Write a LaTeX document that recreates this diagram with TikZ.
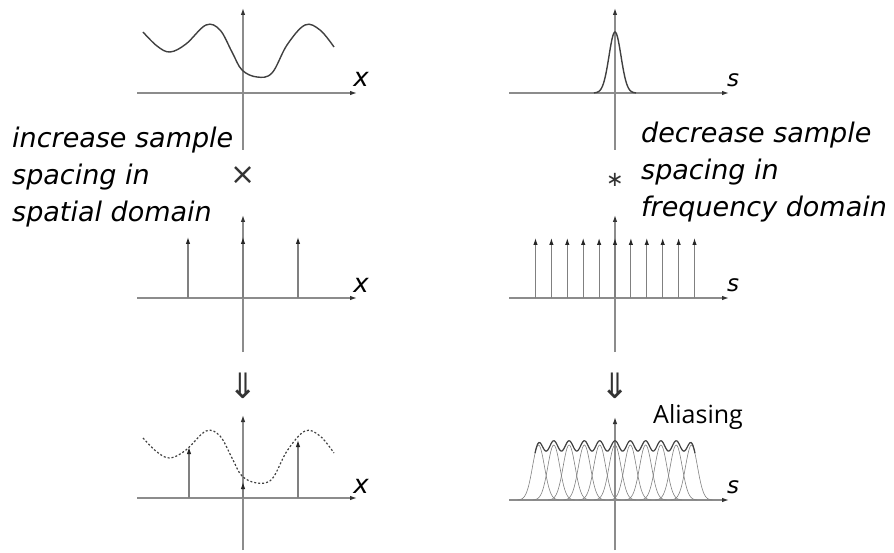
\documentclass[tikz,border=0pt]{standalone}
\usepackage{fontspec}
\newfontfamily\notefont{DejaVu Sans}
\newfontfamily\tagfont{Open Sans}
\usetikzlibrary{arrows.meta}

\begin{document}
\begin{tikzpicture}[x=1pt, y=-1pt,
  axis/.style={draw=black!45, line width=1.2pt,
               -{Latex[length=7pt, width=4.5pt, color=black!80]}},
  impulse/.style={draw=black!50, line width=1.1pt,
                  -{Latex[length=7pt, width=4.5pt, color=black!85]}},
  wave/.style={draw=black!75, line width=1.4pt},
  gauss/.style={draw=black!50, line width=0.6pt},
  envelope/.style={draw=black!75, line width=1.2pt},
  note/.style={font=\notefont\itshape\fontsize{27}{37}\selectfont,
               align=left, inner sep=0pt, anchor=base west},
  axlbl/.style={font=\notefont\itshape\fontsize{26}{30}\selectfont,
                inner sep=0pt, anchor=base},
  sym/.style={inner sep=0pt, text=black!80, font=\notefont\fontsize{35}{37}\selectfont},
  declare function={g(\t)=exp(-min(0.5*(\t/6)^2,12));}
]
  \useasboundingbox (0,0) rectangle (894,553);

  % axes of the six panels
  \foreach \ox/\oy/\yt/\yb in {243/93/8/150, 243/298/215/352, 243/498/415/550,
                               615/93/8/150, 615/298/215/352, 615/500/417/550} {
    \draw[axis] (\ox,\yb) -- (\ox,\yt);
    \draw[axis] (\ox-106,\oy) -- (\ox+114,\oy);
  }

  % signal in the spatial domain
  \draw[wave] plot[smooth, tension=0.6] coordinates {
    (143,32) (157,46) (170,52) (186,44) (206,25) (220,30) (232,52)
    (242,70) (257,77) (272,73) (287,45) (305,25) (320,30) (334,47)};

  % its spectrum
  \draw[wave] plot[domain=-21:21, samples=61] ({615+\x}, {93-61*g(\x)});

  % sampling combs
  \foreach \k in {-1,0,1}
    \draw[impulse] (243+55*\k,298) -- (243+55*\k,237);
  \foreach \k in {-5,...,5}
    \draw[impulse] (615+15.9*\k,298) -- (615+15.9*\k,238);

  % sampled signal
  \draw[wave, line width=1.2pt, dash pattern=on 2pt off 2pt]
    plot[smooth, tension=0.6] coordinates {
    (143,438) (157,452) (170,458) (186,450) (206,431) (220,436) (232,458)
    (242,476) (257,483) (272,479) (287,451) (305,431) (320,436) (334,453)};
  \draw[impulse] (189,498) -- (189,447);
  \draw[impulse] (243,498) -- (243,482);
  \draw[impulse] (298,498) -- (298,440);

  % replicated spectra
  \foreach \k in {-5,...,5}
    \draw[gauss] plot[domain=-21:21, samples=43] ({615+15.3*\k+\x}, {500-55*g(\x)});
  \draw[envelope] plot[domain=-80:80, samples=161] ({615+\x}, {500-55*(
      g(\x+76.5)+g(\x+61.2)+g(\x+45.9)+g(\x+30.6)+g(\x+15.3)+g(\x)
      +g(\x-15.3)+g(\x-30.6)+g(\x-45.9)+g(\x-61.2)+g(\x-76.5))});

  % labels (anchored at the last line)
  \node[note] (incr) at (12,222) {increase sample\\spacing in\\spatial domain};
  \node[note] (decr) at (641,217) {decrease sample\\spacing in\\frequency domain};

  \node[axlbl] (x1) at (361,87) {x};
  \node[axlbl] (x2) at (361,293) {x};
  \node[axlbl] (x3) at (361,493) {x};
  \node[axlbl, font=\notefont\itshape\fontsize{23}{26}\selectfont] (s1) at (733,87) {s};
  \node[axlbl, font=\notefont\itshape\fontsize{23}{26}\selectfont] (s2) at (733,292) {s};
  \node[axlbl, font=\notefont\itshape\fontsize{23}{26}\selectfont] (s3) at (733,493) {s};

  \node[sym, font=\notefont\fontsize{30}{32}\selectfont] (mult) at (243,176) {×};
  \node[sym, font=\notefont\fontsize{21}{23}\selectfont] (conv) at (615,180) {∗};
  \node[sym] (arr1) at (243,386) {⇓};
  \node[sym] (arr2) at (615,386) {⇓};

  \node[inner sep=0pt, anchor=base west, font=\tagfont\fontsize{25}{28}\selectfont]
    (alias) at (653,423) {Aliasing};
\end{tikzpicture}
\end{document}
